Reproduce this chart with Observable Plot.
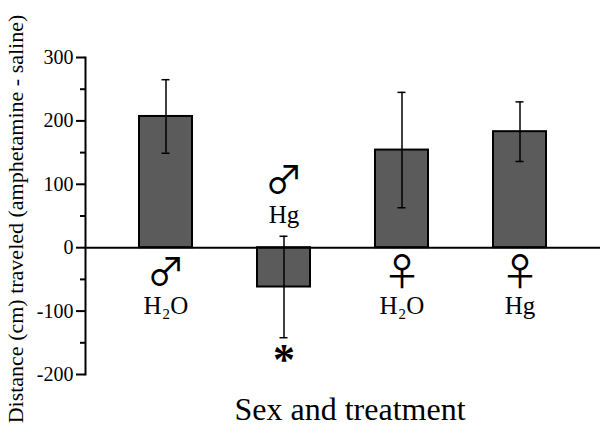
<!DOCTYPE html>
<html>
<head>
<meta charset="utf-8">
<script src="https://cdn.jsdelivr.net/npm/d3@7"></script>
<script src="https://cdn.jsdelivr.net/npm/@observablehq/plot@0.6"></script>
<style>
  html, body { margin: 0; padding: 0; background: #fff; }
  svg { display: block; }
</style>
</head>
<body>
<div id="chart"></div>
<script>
// ---- data ----
const categories = ["Male H2O", "Male Hg", "Female H2O", "Female Hg"];
const sexSymbols = ["\u2642", "\u2642", "\u2640", "\u2640"];
const treatments = ["H\u2082O", "Hg", "H\u2082O", "Hg"];
const means = [207, -62, 154, 183];
const sems = [58, 80, 91, 47];
const significant = [false, true, false, false];
const majorTicks = [-200, -100, 0, 100, 200, 300];
const minorTicks = [-150, -50, 50, 150, 250];
const yLabel = "Distance (cm) traveled (amphetamine - saline)";
const xLabel = "Sex and treatment";

const data = categories.map((c, i) => ({
  cat: c, sex: sexSymbols[i], treat: treatments[i],
  mean: means[i], sem: sems[i], lo: means[i] - sems[i], hi: means[i] + sems[i],
  sig: significant[i]
}));
const pos = data.filter(d => d.mean >= 0);
const neg = data.filter(d => d.mean < 0);
const sig = data.filter(d => d.sig);

const serif = "'Liberation Serif', 'Times New Roman', serif";
const symFont = "'Noto Sans CJK JP', 'DejaVu Sans', sans-serif";

const chart = Plot.plot({
  width: 603,
  height: 435,
  marginTop: 57,
  marginBottom: 61,
  marginLeft: 85,
  marginRight: 3,
  style: { fontFamily: serif, background: "#fff", color: "#000" },
  x: { domain: categories, paddingInner: 0.55, paddingOuter: 0.45, axis: null },
  y: { domain: [-200, 300], axis: null, label: null },
  marks: [
    Plot.frame({ anchor: "left", stroke: "#000", strokeWidth: 2 }),
    Plot.axisY({ ticks: majorTicks, tickSize: 9, tickPadding: 3, strokeWidth: 2,
      tickFormat: d => String(d), fontSize: 20, fill: "#000", label: null }),
    Plot.axisY({ ticks: minorTicks, tickSize: 5, strokeWidth: 2, text: null, label: null }),
    Plot.barY(data, { x: "cat", y: "mean", fill: "#5b5b5b", stroke: "#000", strokeWidth: 2 }),
    Plot.ruleY([0], { stroke: "#000", strokeWidth: 2 }),
    Plot.ruleX(data, { x: "cat", y1: "lo", y2: "hi", stroke: "#000", strokeWidth: 1.5 }),
    Plot.tickY(data, { x: "cat", y: "hi", stroke: "#000", strokeWidth: 1.5, insetLeft: 22.5, insetRight: 22.5 }),
    Plot.tickY(data, { x: "cat", y: "lo", stroke: "#000", strokeWidth: 1.5, insetLeft: 22.5, insetRight: 22.5 }),
    // labels under positive bars
    Plot.text(pos, { x: "cat", y: () => 0, text: "sex", dy: 25, fontSize: 38, fill: "#000", fontFamily: symFont }),
    Plot.text(pos, { x: "cat", y: () => 0, text: "treat", dy: 58, fontSize: 25, fill: "#000" }),
    // labels above negative bars
    Plot.text(neg, { x: "cat", y: () => 0, text: "sex", dy: -67, fontSize: 38, fill: "#000", fontFamily: symFont }),
    Plot.text(neg, { x: "cat", y: () => 0, text: "treat", dy: -33, fontSize: 25, fill: "#000" }),
    // significance asterisk
    Plot.text(sig, { x: "cat", y: "lo", text: () => "*", dy: 22, fontSize: 44, fontWeight: "bold", fill: "#000" }),
    // axis titles
    Plot.text([yLabel], { frameAnchor: "left", textAnchor: "middle", rotate: -90, dx: -70, dy: 3, fontSize: 22, fill: "#000" }),
    Plot.text([xLabel], { frameAnchor: "bottom", textAnchor: "middle", dy: 45, dx: 7, fontSize: 32, fill: "#000" })
  ]
});
document.getElementById("chart").appendChild(chart);
</script>
</body>
</html>
